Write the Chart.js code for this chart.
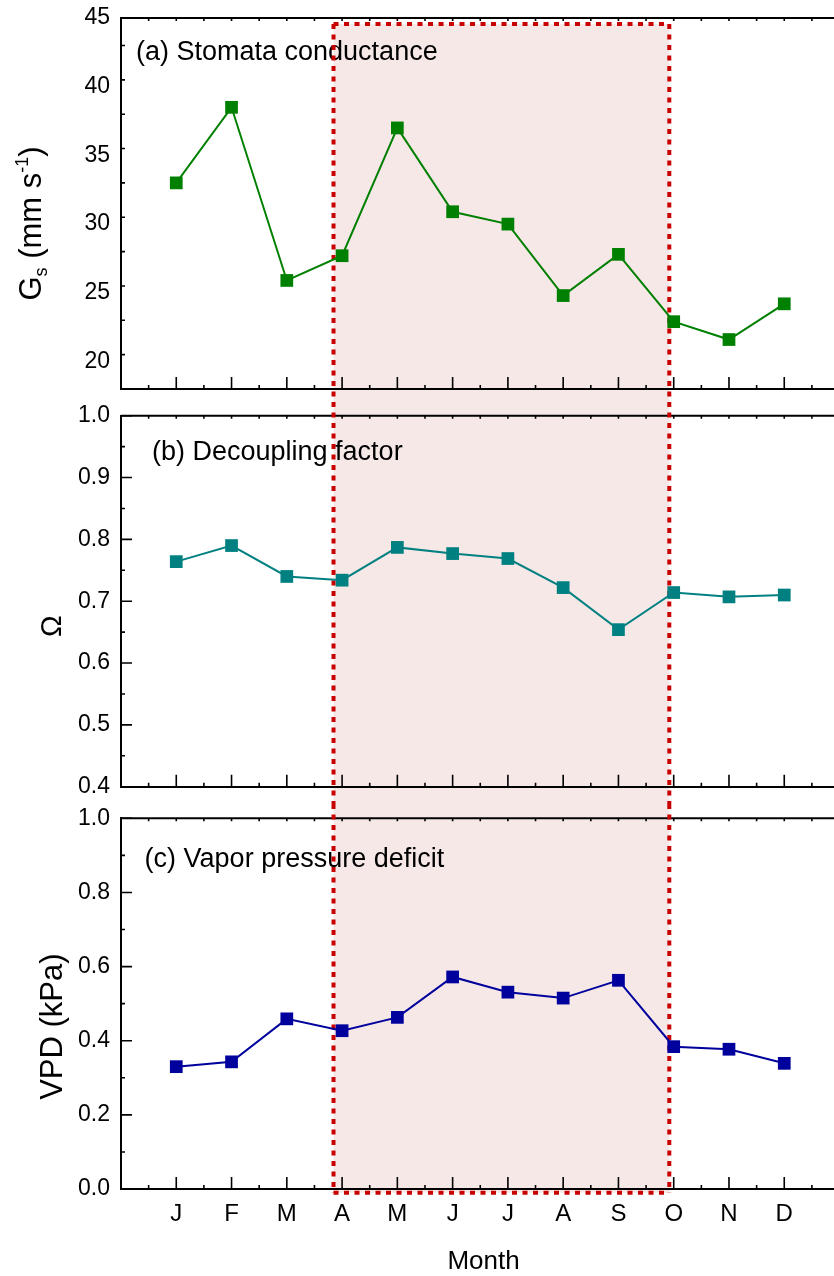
<!DOCTYPE html>
<html>
<head>
<meta charset="utf-8">
<script src="https://cdn.jsdelivr.net/npm/chart.js@4.4.0/dist/chart.umd.min.js"></script>
<style>
  html, body { margin: 0; padding: 0; background: #fff; overflow: hidden; }
  .panel { position: absolute; left: 0; width: 834px; overflow: hidden; }
  canvas { display: block; }
</style>
</head>
<body>
<div class="panel" style="top:0px;height:402px"><canvas id="gsChart" width="843" height="402"></canvas></div>
<div class="panel" style="top:402px;height:402px"><canvas id="omegaChart" width="843" height="402"></canvas></div>
<div class="panel" style="top:804px;height:472px"><canvas id="vpdChart" width="843" height="472"></canvas></div>
<script>
    // data
    const months = ['J', 'F', 'M', 'A', 'M', 'J', 'J', 'A', 'S', 'O', 'N', 'D'];
    const monthPos = [1, 2, 3, 4, 5, 6, 7, 8, 9, 10, 11, 12];

    const gsValues = [33.0, 38.5, 25.9, 27.7, 37.0, 30.9, 30.0, 24.8, 27.8, 22.9, 21.6, 24.2];
    const omegaValues = [0.764, 0.790, 0.740, 0.734, 0.787, 0.777, 0.769, 0.722, 0.654, 0.714, 0.707, 0.710];
    const vpdValues = [0.330, 0.343, 0.459, 0.427, 0.463, 0.572, 0.531, 0.515, 0.563, 0.384, 0.377, 0.339];

    const gsTicks = [20, 25, 30, 35, 40, 45];
    const omegaTicks = [0.4, 0.5, 0.6, 0.7, 0.8, 0.9, 1.0];
    const vpdTicks = [0.0, 0.2, 0.4, 0.6, 0.8, 1.0];

    // shaded box (x in month units, top in Gs units, bottom in VPD units)
    const boxX = [3.845, 9.92];
    const boxTopGs = 44.56;
    const boxBottomVpd = -0.01;

    const FONT = '"Liberation Sans", Arial, sans-serif';
    const PINK = 'rgb(247, 232, 232)';
    const RED = 'rgb(200, 0, 0)';

    function toPoints(vals) {
        return vals.map(function (v, i) { return { x: monthPos[i], y: v }; });
    }

    function noPad(scale) {
        scale.paddingTop = 0;
        scale.paddingBottom = 0;
        scale.paddingLeft = 0;
        scale.paddingRight = 0;
    }

    function drawYTitle(ctx, x, y, parts) {
        // parts: [text, size, shift]  (rotated -90deg)
        ctx.save();
        ctx.translate(x, y);
        ctx.rotate(-Math.PI / 2);
        let total = 0;
        parts.forEach(function (p) {
            ctx.font = p[1] + 'px ' + FONT;
            total += ctx.measureText(p[0]).width;
        });
        let cx = -total / 2;
        ctx.fillStyle = '#000';
        ctx.textBaseline = 'alphabetic';
        ctx.textAlign = 'left';
        parts.forEach(function (p) {
            ctx.font = p[1] + 'px ' + FONT;
            ctx.fillText(p[0], cx, p[2]);
            cx += ctx.measureText(p[0]).width;
        });
        ctx.restore();
    }

    function panelPlugin(p) {
        return {
            id: 'panelDeco',
            beforeDraw(chart) {
                const ctx = chart.ctx;
                const xs = chart.scales.x, ys = chart.scales.y;
                const x0 = xs.getPixelForValue(boxX[0]);
                const x1 = xs.getPixelForValue(boxX[1]);
                const y0 = p.boxTop != null ? ys.getPixelForValue(p.boxTop) : 0;
                const y1 = p.boxBottom != null ? ys.getPixelForValue(p.boxBottom) : chart.height;
                ctx.save();
                ctx.fillStyle = PINK;
                ctx.fillRect(x0, y0, x1 - x0, y1 - y0);
                ctx.restore();
            },
            beforeDatasetsDraw(chart) {
                const ctx = chart.ctx;
                const a = chart.chartArea;
                const xs = chart.scales.x, ys = chart.scales.y;
                ctx.save();
                ctx.strokeStyle = '#000';
                // top frame line
                ctx.lineWidth = 2;
                ctx.beginPath();
                ctx.moveTo(a.left, a.top);
                ctx.lineTo(a.right, a.top);
                ctx.stroke();
                // inward ticks
                ctx.lineWidth = 1.6;
                ctx.beginPath();
                for (let v = 0.5; v < xs.max; v += 0.5) {
                    const px = xs.getPixelForValue(v);
                    const major = Number.isInteger(v);
                    ctx.moveTo(px, a.bottom);
                    ctx.lineTo(px, a.bottom - (major ? 12 : 4));
                    ctx.moveTo(px, a.top);
                    ctx.lineTo(px, a.top + 3);
                }
                for (let v = ys.min; v <= ys.max + 1e-9; v += p.minorStep) {
                    const py = ys.getPixelForValue(v);
                    const major = p.ticks.some(function (t) { return Math.abs(t - v) < 1e-6; });
                    ctx.moveTo(a.left, py);
                    ctx.lineTo(a.left + (major ? 11 : 4), py);
                }
                ctx.stroke();
                // panel label
                ctx.fillStyle = '#000';
                ctx.font = '27px ' + FONT;
                ctx.textAlign = 'left';
                ctx.textBaseline = 'alphabetic';
                ctx.fillText(p.label, a.left + p.labelDx, a.top + p.labelDy);
                // dotted box outline
                const x0 = xs.getPixelForValue(boxX[0]);
                const x1 = xs.getPixelForValue(boxX[1]);
                const y0 = p.boxTop != null ? ys.getPixelForValue(p.boxTop) : 0;
                const y1 = p.boxBottom != null ? ys.getPixelForValue(p.boxBottom) : chart.height;
                ctx.strokeStyle = RED;
                ctx.lineWidth = 4;
                ctx.setLineDash([5, 5.5]);
                ctx.beginPath();
                ctx.moveTo(x0, y0);
                ctx.lineTo(x0, y1);
                ctx.moveTo(x1, y0);
                ctx.lineTo(x1, y1);
                if (p.boxTop != null) { ctx.moveTo(x0, y0); ctx.lineTo(x1, y0); }
                if (p.boxBottom != null) { ctx.moveTo(x0, y1); ctx.lineTo(x1, y1); }
                ctx.stroke();
                ctx.restore();
            },
            afterDraw(chart) {
                const a = chart.chartArea;
                drawYTitle(chart.ctx, p.titleX, (a.top + a.bottom) / 2 + p.titleDy, p.title);
                if (p.xTitle) {
                    const ctx = chart.ctx;
                    ctx.save();
                    ctx.fillStyle = '#000';
                    ctx.font = '26px ' + FONT;
                    ctx.textAlign = 'center';
                    ctx.textBaseline = 'alphabetic';
                    ctx.fillText(p.xTitle, chart.scales.x.getPixelForValue(6.56), a.bottom + 80);
                    ctx.restore();
                }
            }
        };
    }

    function makePanel(id, p) {
        const ctx = document.getElementById(id).getContext('2d');
        return new Chart(ctx, {
            type: 'line',
            data: {
                datasets: [{
                    data: toPoints(p.values),
                    borderColor: p.color,
                    backgroundColor: p.color,
                    borderWidth: 2,
                    tension: 0,
                    pointStyle: 'rect',
                    pointRadius: 9,
                    pointBorderWidth: 0,
                    pointBackgroundColor: p.color,
                    clip: false
                }]
            },
            options: {
                responsive: false,
                animation: false,
                devicePixelRatio: 1,
                events: [],
                layout: { padding: { top: p.padTop, left: 0, right: 0, bottom: 0 } },
                plugins: {
                    legend: { display: false },
                    tooltip: { enabled: false },
                    title: { display: false }
                },
                scales: {
                    x: {
                        type: 'linear',
                        min: 0,
                        max: 12.9,
                        grid: { display: false, drawTicks: false },
                        border: { display: true, color: '#000', width: 2 },
                        afterBuildTicks: function (scale) {
                            scale.ticks = monthPos.map(function (v) { return { value: v }; });
                        },
                        afterFit: function (scale) { scale.height = p.xHeight; noPad(scale); },
                        ticks: {
                            display: p.showMonths,
                            autoSkip: false,
                            maxRotation: 0,
                            padding: 11,
                            color: '#000',
                            font: { family: FONT, size: 24 },
                            callback: function (v) { return months[v - 1]; }
                        }
                    },
                    y: {
                        min: p.min,
                        max: p.max,
                        grid: { display: false, drawTicks: false },
                        border: { display: true, color: '#000', width: 2 },
                        afterBuildTicks: function (scale) {
                            scale.ticks = p.ticks.map(function (v) { return { value: v }; });
                        },
                        afterFit: function (scale) { scale.width = 121; noPad(scale); },
                        ticks: {
                            padding: 11,
                            color: '#000',
                            font: { family: FONT, size: 23 },
                            callback: function (v) { return p.digits ? Number(v).toFixed(p.digits) : String(v); }
                        }
                    }
                }
            },
            plugins: [panelPlugin(p)]
        });
    }

    makePanel('gsChart', {
        values: gsValues, color: '#008000', min: 18, max: 45, ticks: gsTicks, minorStep: 2.5, digits: 0,
        padTop: 18, xHeight: 13, showMonths: false,
        label: '(a) Stomata conductance', labelDx: 15, labelDy: 41.5,
        boxTop: boxTopGs, boxBottom: null,
        titleX: 41, titleDy: 20,
        title: [['G', 31, 0], ['s', 18, 6], [' (mm s', 31, 0], ['-1', 18, -13], [')', 31, 0]]
    });

    makePanel('omegaChart', {
        values: omegaValues, color: '#008080', min: 0.4, max: 1.0, ticks: omegaTicks, minorStep: 0.05, digits: 1,
        padTop: 13.7, xHeight: 17.3, showMonths: false,
        label: '(b) Decoupling factor', labelDx: 31, labelDy: 44.3,
        boxTop: null, boxBottom: null,
        titleX: 61, titleDy: 25,
        title: [['\u03A9', 29, 0]]
    });

    makePanel('vpdChart', {
        values: vpdValues, color: '#00009c', min: 0, max: 1.0, ticks: vpdTicks, minorStep: 0.1, digits: 1,
        padTop: 14.3, xHeight: 87, showMonths: true,
        label: '(c) Vapor pressure deficit', labelDx: 23.6, labelDy: 48.4,
        boxTop: null, boxBottom: boxBottomVpd,
        titleX: 62, titleDy: 23,
        title: [['VPD (kPa)', 31, 0]],
        xTitle: 'Month'
    });
</script>
</body>
</html>
